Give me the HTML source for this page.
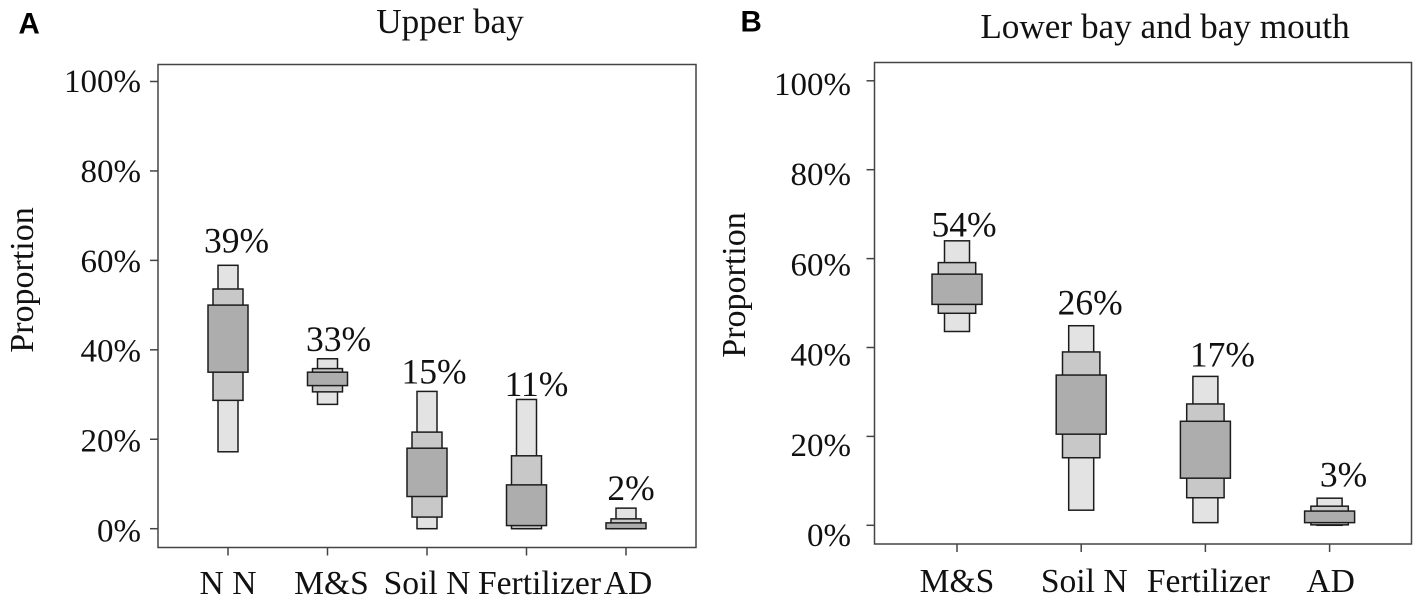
<!DOCTYPE html>
<html lang="en">
<head>
<meta charset="utf-8">
<title>Proportional source contributions: upper bay and lower bay</title>
<style>
  html, body { margin: 0; padding: 0; background: #fff; }
  body { width: 1417px; height: 613px; overflow: hidden; }
  svg { display: block; }
  text { font-family: "Liberation Serif", "Times New Roman", serif; font-size: 33px; fill: #111; }
  .title { font-size: 35.2px; }
  .ytitle { font-size: 34px; }
  .value { font-size: 35.5px; }
  .cat { font-size: 33.6px; }
  .letter { font-family: "Liberation Sans", Arial, sans-serif; font-weight: bold; font-size: 29.5px; fill: #000; }
  .frame { fill: #fff; stroke: #444; stroke-width: 1.5; }
  .tick { stroke: #444; stroke-width: 1.5; }
  .band { stroke: #1c1c1c; stroke-width: 1.5; }
  .outer { fill: #e3e3e3; }
  .mid { fill: #c8c8c8; }
  .inner { fill: #adadad; }
</style>
</head>
<body>
<svg id="chart" xmlns="http://www.w3.org/2000/svg" width="1417" height="613" viewBox="0 0 1417 613">
  <rect width="1417" height="613" fill="#fff"/>
  <text class="letter" x="18.5" y="33.5">A</text>
  <text class="letter" x="740.5" y="31.5">B</text>
  <text class="title" x="450" y="33" text-anchor="middle">Upper bay</text>
  <text class="title" x="1165" y="38" text-anchor="middle">Lower bay and bay mouth</text>
  <text class="ytitle" transform="translate(33 280) rotate(-90)" text-anchor="middle">Proportion</text>
  <text class="ytitle" transform="translate(745 285) rotate(-90)" text-anchor="middle">Proportion</text>
  <g id="panel-a"></g>
  <g id="panel-b"></g>
</svg>
<script>
// Shared y axis
const yTicks = [0, 20, 40, 60, 80, 100];

// Panel A: Upper bay
const aCategories = ["N N", "M&S", "Soil N", "Fertilizer", "AD"];
const aMeans = [39, 33, 15, 11, 2];
const aOuterLow = [17.2, 27.8, 0, 0, 0];
const aMidLow = [28.7, 30.6, 2.6, 0, 0];
const aInnerLow = [35, 32, 7.2, 0.7, 0];
const aInnerHigh = [50, 35, 18, 9.8, 1.3];
const aMidHigh = [53.6, 35.8, 21.6, 16.3, 2.2];
const aOuterHigh = [58.9, 38, 30.7, 28.9, 4.6];

// Panel B: Lower bay and bay mouth
const bCategories = ["M&S", "Soil N", "Fertilizer", "AD"];
const bMeans = [54, 26, 17, 3];
const bOuterLow = [43.6, 3.4, 0.6, 0];
const bMidLow = [47.7, 15.2, 6.2, 0.1];
const bInnerLow = [49.7, 20.5, 10.6, 0.6];
const bInnerHigh = [56.5, 33.8, 23.4, 3.2];
const bMidHigh = [59.1, 39, 27.3, 4.3];
const bOuterHigh = [64, 44.9, 33.5, 6.1];

// Layout (axis geometry and label nudges, separate from the data)
const layoutA = {
  box: [158, 64.5, 696, 547.5], y0: 528.7, yPerUnit: 4.472,
  xFirst: 228, xStep: 99.5,
  tickLabelEnd: 141, tickLabelY0: 541.5, tickLabelPerUnit: 4.495,
  catBase: 594, half: [10, 15, 20],
  catNudge: [0, 4, 0, 13, 2],
  valDx: [8.5, 11, 7, 10, 5], valGap: [13, 8, 8, 3.5, 8]
};
const layoutB = {
  box: [874.5, 62.5, 1411.5, 544], y0: 525.3, yPerUnit: 4.445,
  xFirst: 957, xStep: 124.2,
  tickLabelEnd: 851, tickLabelY0: 546, tickLabelPerUnit: 4.51,
  catBase: 592, half: [12.5, 18.7, 25],
  catNudge: [0, 3, 3, 1],
  valDx: [7, 9, 17, 14], valGap: [4.5, 11, 10, 11.5]
};

const NS = "http://www.w3.org/2000/svg";

function make(parent, tag, attrs) {
  const el = document.createElementNS(NS, tag);
  for (const k in attrs) el.setAttribute(k, attrs[k]);
  parent.appendChild(el);
  return el;
}

function drawPanel(groupId, prefix, L, cats, means, oLow, mLow, iLow, iHigh, mHigh, oHigh) {
  const g = document.getElementById(groupId);
  const yScale = v => L.y0 - v * L.yPerUnit;
  const xScale = i => L.xFirst + i * L.xStep;
  const [left, top, right, bottom] = L.box;

  const frame = make(g, "rect", { class: "frame", x: left, y: top, width: right - left, height: bottom - top });
  
  

  yTicks.forEach(t => {
    const y = yScale(t);
    const tick = make(g, "line", { class: "tick", x1: left - 8, x2: left, y1: y, y2: y });
    
    
    const lab = make(g, "text", { x: L.tickLabelEnd, y: L.tickLabelY0 - t * L.tickLabelPerUnit, "text-anchor": "end" });
    lab.textContent = t + "%";
    
    
  });

  cats.forEach((c, i) => {
    const x = xScale(i);
    const slug = c.toLowerCase().replace(/[^a-z]+/g, '-');
    const tick = make(g, "line", { class: "tick", x1: x, x2: x, y1: bottom, y2: bottom + 8 });
    
    
    const lab = make(g, "text", { class: "cat", x: x + L.catNudge[i], y: L.catBase, "text-anchor": "middle" });
    lab.textContent = c;
    
    

    const bands = [
      ["outer", oLow[i], oHigh[i], L.half[0]],
      ["mid", mLow[i], mHigh[i], L.half[1]],
      ["inner", iLow[i], iHigh[i], L.half[2]]
    ];
    bands.forEach(b => {
      const yTop = yScale(b[2]);
      const yBot = yScale(b[1]);
      const r = make(g, "rect", { class: "band " + b[0], x: x - b[3], y: yTop, width: b[3] * 2, height: yBot - yTop });
      
      
    });

    const val = make(g, "text", { class: "value", x: x + L.valDx[i], y: yScale(oHigh[i]) - L.valGap[i], "text-anchor": "middle" });
    val.textContent = means[i] + "%";
    
    
  });
}

drawPanel("panel-a", "panel-a", layoutA, aCategories, aMeans, aOuterLow, aMidLow, aInnerLow, aInnerHigh, aMidHigh, aOuterHigh);
drawPanel("panel-b", "panel-b", layoutB, bCategories, bMeans, bOuterLow, bMidLow, bInnerLow, bInnerHigh, bMidHigh, bOuterHigh);
</script>
</body>
</html>
